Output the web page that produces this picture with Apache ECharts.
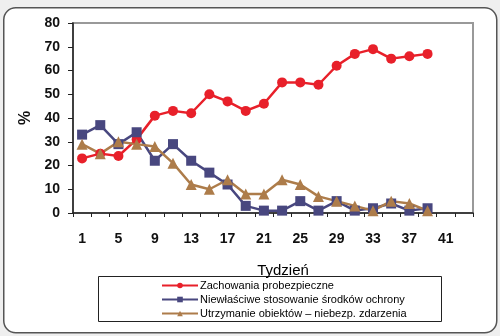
<!DOCTYPE html>
<html>
<head>
<meta charset="utf-8">
<script src="https://cdn.jsdelivr.net/npm/echarts@6/dist/echarts.min.js"></script>
<style>
html,body{margin:0;padding:0;background:#efefef;}
#c{width:500px;height:336px;}
</style>
</head>
<body>
<div id="c"></div>
<script>
const weeks = ['1','3','5','7','9','11','13','15','17','19','21','23','25','27','29','31','33','35','37','39','41','43'];
const seriesNames = ['Zachowania probezpieczne','Niewłaściwe stosowanie środków ochrony','Utrzymanie obiektów – niebezp. zdarzenia'];
const zachowania = [23,25,24,31,41,43,42,50,47,43,46,55,55,54,62,67,69,65,66,67];
const niewlasciwe = [33,37,29,34,22,29,22,17,12,3,1,1,5,1,5,1,2,4,1,2];
const utrzymanie = [29,25,30,29,28,21,12,10,14,8,8,14,12,7,5,3,1,5,4,1];
const yTicks = [0,10,20,30,40,50,60,70,80];
const xTitle = 'Tydzień';
const yTitle = '%';

const font = '"Liberation Sans", Arial, sans-serif';
const chart = echarts.init(document.getElementById('c'), null, {renderer:'canvas'});
function mk(name, data, color, symbol, size){
  return {name, type:'line', data, symbol, symbolSize:size, showAllSymbol:true,
    itemStyle:{color}, lineStyle:{color, width:2.5}, connectNulls:false, z:3};
}
chart.setOption({
  backgroundColor:'#efefef',
  animation:false,
  graphic:[
    {type:'rect', left:3, top:7, shape:{width:493, height:325, r:12}, style:{fill:'#fff', stroke:'#555', lineWidth:1.5}, z:-10, silent:true},
    {type:'rect', left:98, top:276, shape:{width:343, height:45}, style:{fill:'#fff', stroke:'#222', lineWidth:1}, z:-5, silent:true},
    {type:'text', x:283, y:263, style:{text:xTitle, font:'15px '+font, fill:'#000', textAlign:'center'}}
  ],
  grid:{left:73, top:23, right:27, bottom:123, show:true, borderColor:'#999', borderWidth:2, backgroundColor:'#fff'},
  legend:{
    orient:'vertical', left:161, top:279, itemWidth:36, itemHeight:7, itemGap:1, padding:0,
    data:seriesNames,
    textStyle:{fontFamily:font, fontSize:11, color:'#000', lineHeight:13, padding:[0,0,0,-3]}
  },
  xAxis:{
    type:'category', data:weeks, boundaryGap:true,
    axisLine:{lineStyle:{color:'#222', width:1.5}},
    axisTick:{show:true, interval:0, length:4, inside:false, lineStyle:{color:'#222'}},
    axisLabel:{interval:1, fontFamily:font, fontSize:14, fontWeight:'bold', color:'#111', margin:19}
  },
  yAxis:{
    type:'value', min:yTicks[0], max:yTicks[yTicks.length-1], interval:10,
    name:yTitle, nameLocation:'middle', nameGap:38, nameRotate:90,
    nameTextStyle:{fontFamily:font, fontSize:16, fontWeight:'bold', color:'#111'},
    splitLine:{show:false},
    axisLine:{show:true, lineStyle:{color:'#222', width:1.5}},
    axisTick:{show:true, length:5, lineStyle:{color:'#222'}},
    axisLabel:{fontFamily:font, fontSize:14, fontWeight:'bold', color:'#111', margin:13}
  },
  series:[
    mk(seriesNames[0], zachowania, '#e8202a', 'circle', 10),
    mk(seriesNames[1], niewlasciwe, '#48477f', 'rect', 10),
    mk(seriesNames[2], utrzymanie, '#ad7c4a', 'triangle', 11)
  ]
});
</script>
</body>
</html>
